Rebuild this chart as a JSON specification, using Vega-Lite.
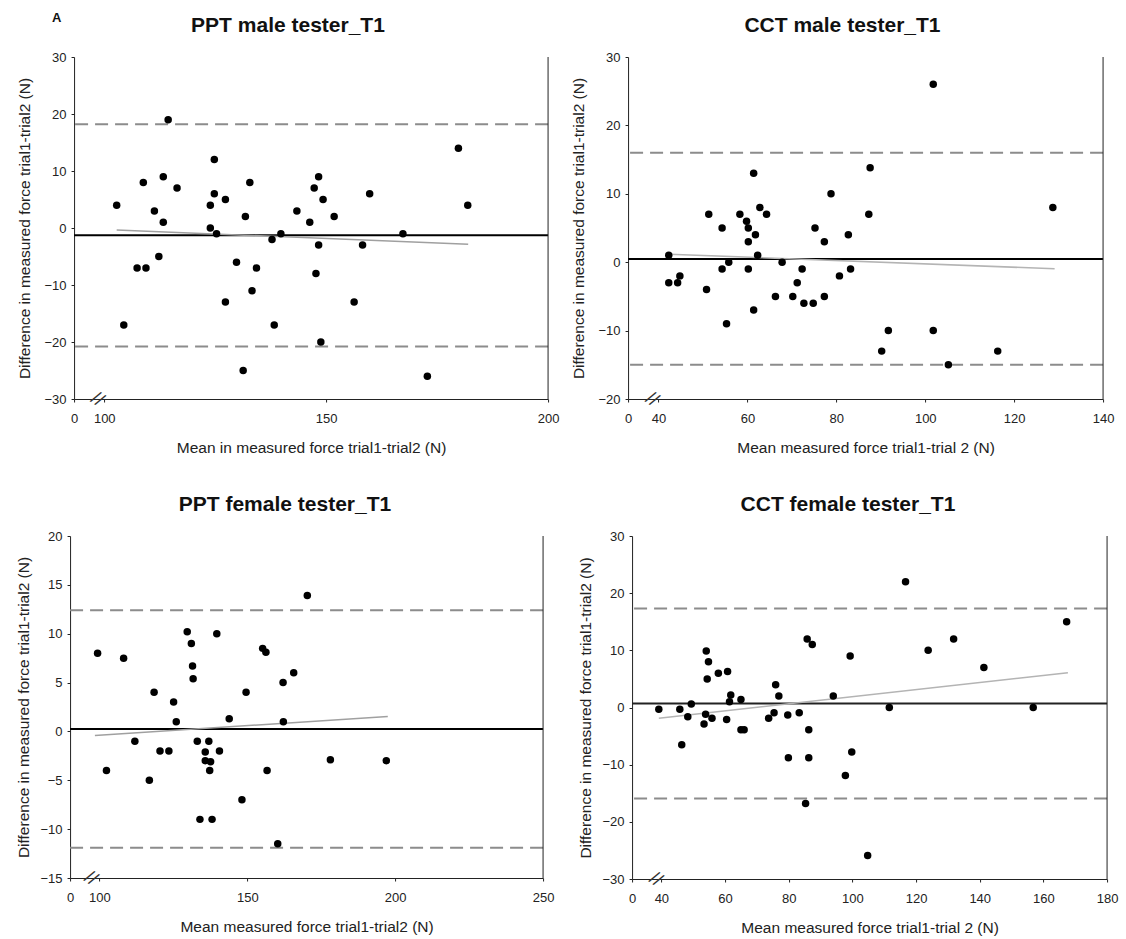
{
  "$schema": "https://vega.github.io/schema/vega-lite/v6.json",
  "padding": {"left": 16, "top": 12, "right": 5, "bottom": 5},
  "background": "white",
  "title": {"text": "A", "anchor": "start", "fontSize": 13, "fontWeight": "bold", "offset": -10, "dx": -18, "frame": "group", "baseline": "top"},
  "spacing": 38,
  "center": true,
  "vconcat": [
    {
      "spacing": 11,
      "hconcat": [
        {
          "width": 474, "height": 342,
          "title": {"text": "PPT male tester_T1"},
          "layer": [
            {"data": {"values": [{"diff": 18.2}, {"diff": -20.8}]}, "mark": {"type": "rule", "color": "#8c8c8c", "strokeWidth": 2, "strokeDash": [13, 7]}, "encoding": {"y": {"field": "diff", "type": "quantitative"}}},
            {"data": {"values": [{"diff": -1.25}]}, "mark": {"type": "rule", "color": "black", "strokeWidth": 2}, "encoding": {"y": {"field": "diff", "type": "quantitative"}}},
            {"data": {"values": [{"mean": 102.8, "diff": -0.37}, {"mean": 182, "diff": -2.83}]}, "mark": {"type": "line", "color": "#a0a0a0", "strokeWidth": 1.5}, "encoding": {"x": {"field": "mean", "type": "quantitative"}, "y": {"field": "diff", "type": "quantitative"}}},
            {"data": {"values": [{}]}, "mark": {"type": "rule", "color": "#222", "strokeWidth": 1}, "encoding": {"x": {"datum": 200, "type": "quantitative"}}},
            {"data": {"values": [{}]}, "mark": {"type": "text", "text": "//", "fontSize": 19, "angle": 35, "color": "#333"}, "encoding": {"x": {"datum": 98.5, "type": "quantitative"}, "y": {"datum": -30, "type": "quantitative"}}},
            {
              "data": {"values": [
                {"mean": 102.8, "diff": 4}, {"mean": 104.4, "diff": -17}, {"mean": 107.4, "diff": -7}, {"mean": 109.4, "diff": -7}, {"mean": 108.8, "diff": 8},
                {"mean": 111.3, "diff": 3}, {"mean": 112.3, "diff": -5}, {"mean": 113.3, "diff": 9}, {"mean": 113.3, "diff": 1}, {"mean": 114.4, "diff": 19},
                {"mean": 116.4, "diff": 7}, {"mean": 123.9, "diff": 4}, {"mean": 123.9, "diff": 0}, {"mean": 124.8, "diff": 12}, {"mean": 124.8, "diff": 6},
                {"mean": 125.3, "diff": -1}, {"mean": 127.3, "diff": 5}, {"mean": 127.3, "diff": -13}, {"mean": 129.8, "diff": -6}, {"mean": 131.3, "diff": -25},
                {"mean": 131.8, "diff": 2}, {"mean": 132.8, "diff": 8}, {"mean": 133.3, "diff": -11}, {"mean": 134.3, "diff": -7}, {"mean": 137.8, "diff": -2},
                {"mean": 138.3, "diff": -17}, {"mean": 139.8, "diff": -1}, {"mean": 143.4, "diff": 3}, {"mean": 146.3, "diff": 1}, {"mean": 147.3, "diff": 7},
                {"mean": 147.7, "diff": -8}, {"mean": 148.3, "diff": 9}, {"mean": 148.3, "diff": -3}, {"mean": 148.8, "diff": -20}, {"mean": 149.3, "diff": 5},
                {"mean": 151.8, "diff": 2}, {"mean": 156.3, "diff": -13}, {"mean": 158.2, "diff": -3}, {"mean": 159.8, "diff": 6}, {"mean": 167.3, "diff": -1},
                {"mean": 172.8, "diff": -26}, {"mean": 179.8, "diff": 14}, {"mean": 181.9, "diff": 4}
              ]},
              "mark": {"type": "circle", "color": "black", "opacity": 1, "size": 56},
              "encoding": {
                "x": {"field": "mean", "type": "quantitative", "scale": {"domain": [93.2, 200], "nice": false, "zero": false}, "axis": {"title": "Mean in measured force trial1-trial2 (N)", "values": [93.2, 100, 150, 200], "labelExpr": "datum.value < 100 ? '0' : datum.label"}},
                "y": {"field": "diff", "type": "quantitative", "scale": {"domain": [-30, 30], "nice": false, "zero": false}, "axis": {"title": "Difference in measured force trial1-trial2 (N)", "values": [-30, -20, -10, 0, 10, 20, 30]}}
              }
            }
          ]
        },
        {
          "width": 475, "height": 342,
          "title": {"text": "CCT male tester_T1"},
          "layer": [
            {"data": {"values": [{"diff": 16}, {"diff": -15}]}, "mark": {"type": "rule", "color": "#8c8c8c", "strokeWidth": 2, "strokeDash": [13, 7]}, "encoding": {"y": {"field": "diff", "type": "quantitative"}}},
            {"data": {"values": [{"diff": 0.45}]}, "mark": {"type": "rule", "color": "black", "strokeWidth": 2}, "encoding": {"y": {"field": "diff", "type": "quantitative"}}},
            {"data": {"values": [{"mean": 42.4, "diff": 1.18}, {"mean": 129.1, "diff": -0.96}]}, "mark": {"type": "line", "color": "#b4b4b4", "strokeWidth": 1.5}, "encoding": {"x": {"field": "mean", "type": "quantitative"}, "y": {"field": "diff", "type": "quantitative"}}},
            {"data": {"values": [{}]}, "mark": {"type": "rule", "color": "#222", "strokeWidth": 1}, "encoding": {"x": {"datum": 140, "type": "quantitative"}}},
            {"data": {"values": [{}]}, "mark": {"type": "text", "text": "//", "fontSize": 19, "angle": 35, "color": "#333"}, "encoding": {"x": {"datum": 38.6, "type": "quantitative"}, "y": {"datum": -20, "type": "quantitative"}}},
            {
              "data": {"values": [
                {"mean": 42.3, "diff": 1}, {"mean": 42.3, "diff": -3}, {"mean": 44.3, "diff": -3}, {"mean": 44.8, "diff": -2}, {"mean": 50.8, "diff": -4},
                {"mean": 51.3, "diff": 7}, {"mean": 54.3, "diff": 5}, {"mean": 54.3, "diff": -1}, {"mean": 55.3, "diff": -9}, {"mean": 55.8, "diff": 0},
                {"mean": 58.3, "diff": 7}, {"mean": 59.8, "diff": 6}, {"mean": 60.2, "diff": 5}, {"mean": 60.2, "diff": 3}, {"mean": 60.2, "diff": -1},
                {"mean": 61.4, "diff": 13}, {"mean": 61.4, "diff": -7}, {"mean": 61.8, "diff": 4}, {"mean": 62.3, "diff": 1}, {"mean": 62.8, "diff": 8},
                {"mean": 64.3, "diff": 7}, {"mean": 66.3, "diff": -5}, {"mean": 67.8, "diff": 0}, {"mean": 70.2, "diff": -5}, {"mean": 71.2, "diff": -3},
                {"mean": 72.3, "diff": -1}, {"mean": 72.7, "diff": -6}, {"mean": 74.8, "diff": -6}, {"mean": 75.2, "diff": 5}, {"mean": 77.3, "diff": -5},
                {"mean": 77.3, "diff": 3}, {"mean": 78.8, "diff": 10}, {"mean": 80.7, "diff": -2}, {"mean": 82.7, "diff": 4}, {"mean": 83.2, "diff": -1},
                {"mean": 87.3, "diff": 7}, {"mean": 87.6, "diff": 13.8}, {"mean": 90.2, "diff": -13}, {"mean": 91.7, "diff": -10}, {"mean": 101.8, "diff": 26},
                {"mean": 101.8, "diff": -10}, {"mean": 105.2, "diff": -15}, {"mean": 116.3, "diff": -13}, {"mean": 128.7, "diff": 8}
              ]},
              "mark": {"type": "circle", "color": "black", "opacity": 1, "size": 56},
              "encoding": {
                "x": {"field": "mean", "type": "quantitative", "scale": {"domain": [33.15, 140], "nice": false, "zero": false}, "axis": {"title": "Mean measured force trial1-trial 2 (N)", "values": [33.15, 40, 60, 80, 100, 120, 140], "labelExpr": "datum.value < 40 ? '0' : datum.label"}},
                "y": {"field": "diff", "type": "quantitative", "scale": {"domain": [-20, 30], "nice": false, "zero": false}, "axis": {"title": "Difference in measured force trial1-trial2 (N)", "values": [-20, -10, 0, 10, 20, 30]}}
              }
            }
          ]
        }
      ]
    },
    {
      "spacing": 23,
      "hconcat": [
        {
          "width": 473, "height": 342,
          "title": {"text": "PPT female tester_T1"},
          "layer": [
            {"data": {"values": [{"diff": 12.4}, {"diff": -11.9}]}, "mark": {"type": "rule", "color": "#8c8c8c", "strokeWidth": 2, "strokeDash": [13, 7]}, "encoding": {"y": {"field": "diff", "type": "quantitative"}}},
            {"data": {"values": [{"diff": 0.25}]}, "mark": {"type": "rule", "color": "black", "strokeWidth": 2}, "encoding": {"y": {"field": "diff", "type": "quantitative"}}},
            {"data": {"values": [{"mean": 98.5, "diff": -0.42}, {"mean": 197.5, "diff": 1.53}]}, "mark": {"type": "line", "color": "#a0a0a0", "strokeWidth": 1.5}, "encoding": {"x": {"field": "mean", "type": "quantitative"}, "y": {"field": "diff", "type": "quantitative"}}},
            {"data": {"values": [{}]}, "mark": {"type": "rule", "color": "#222", "strokeWidth": 1}, "encoding": {"x": {"datum": 250, "type": "quantitative"}}},
            {"data": {"values": [{}]}, "mark": {"type": "text", "text": "//", "fontSize": 19, "angle": 35, "color": "#333"}, "encoding": {"x": {"datum": 97.2, "type": "quantitative"}, "y": {"datum": -15, "type": "quantitative"}}},
            {
              "data": {"values": [
                {"mean": 99.4, "diff": 8}, {"mean": 102.4, "diff": -4}, {"mean": 108.2, "diff": 7.5}, {"mean": 112, "diff": -1}, {"mean": 116.9, "diff": -5},
                {"mean": 118.5, "diff": 4}, {"mean": 120.5, "diff": -2}, {"mean": 123.5, "diff": -2}, {"mean": 125.1, "diff": 3}, {"mean": 126, "diff": 1},
                {"mean": 129.7, "diff": 10.2}, {"mean": 131.1, "diff": 9}, {"mean": 131.5, "diff": 6.7}, {"mean": 131.7, "diff": 5.4}, {"mean": 133.1, "diff": -1},
                {"mean": 134, "diff": -9}, {"mean": 135.8, "diff": -2.1}, {"mean": 135.8, "diff": -3}, {"mean": 137, "diff": -1}, {"mean": 137.3, "diff": -4},
                {"mean": 137.6, "diff": -3.1}, {"mean": 138.1, "diff": -9}, {"mean": 139.7, "diff": 10}, {"mean": 140.6, "diff": -2}, {"mean": 143.9, "diff": 1.3},
                {"mean": 148.2, "diff": -7}, {"mean": 149.6, "diff": 4}, {"mean": 155.2, "diff": 8.5}, {"mean": 156.3, "diff": 8.1}, {"mean": 156.7, "diff": -4},
                {"mean": 160.3, "diff": -11.5}, {"mean": 162.1, "diff": 5}, {"mean": 162.2, "diff": 1}, {"mean": 165.7, "diff": 6}, {"mean": 170.3, "diff": 13.9},
                {"mean": 178.1, "diff": -2.9}, {"mean": 197, "diff": -3}
              ]},
              "mark": {"type": "circle", "color": "black", "opacity": 1, "size": 56},
              "encoding": {
                "x": {"field": "mean", "type": "quantitative", "scale": {"domain": [90.1, 250], "nice": false, "zero": false}, "axis": {"title": "Mean measured force trial1-trial2 (N)", "values": [90.1, 100, 150, 200, 250], "labelExpr": "datum.value < 100 ? '0' : datum.label"}},
                "y": {"field": "diff", "type": "quantitative", "scale": {"domain": [-15, 20], "nice": false, "zero": false}, "axis": {"title": "Difference in measured force trial1-trial2 (N)", "titlePadding": 9, "values": [-15, -10, -5, 0, 5, 10, 15, 20]}}
              }
            }
          ]
        },
        {
          "width": 475, "height": 343,
          "title": {"text": "CCT female tester_T1"},
          "layer": [
            {"data": {"values": [{"diff": 17.3}, {"diff": -15.9}]}, "mark": {"type": "rule", "color": "#8c8c8c", "strokeWidth": 2, "strokeDash": [13, 7]}, "encoding": {"y": {"field": "diff", "type": "quantitative"}}},
            {"data": {"values": [{"diff": 0.7}]}, "mark": {"type": "rule", "color": "#222", "strokeWidth": 2}, "encoding": {"y": {"field": "diff", "type": "quantitative"}}},
            {"data": {"values": [{"mean": 39.2, "diff": -1.87}, {"mean": 167.7, "diff": 6.07}]}, "mark": {"type": "line", "color": "#b4b4b4", "strokeWidth": 1.5}, "encoding": {"x": {"field": "mean", "type": "quantitative"}, "y": {"field": "diff", "type": "quantitative"}}},
            {"data": {"values": [{}]}, "mark": {"type": "rule", "color": "#222", "strokeWidth": 1}, "encoding": {"x": {"datum": 180, "type": "quantitative"}}},
            {"data": {"values": [{}]}, "mark": {"type": "text", "text": "//", "fontSize": 19, "angle": 35, "color": "#333"}, "encoding": {"x": {"datum": 38.3, "type": "quantitative"}, "y": {"datum": -30, "type": "quantitative"}}},
            {
              "data": {"values": [
                {"mean": 39.2, "diff": -0.3}, {"mean": 45.8, "diff": -0.3}, {"mean": 46.4, "diff": -6.5}, {"mean": 48.3, "diff": -1.6}, {"mean": 49.4, "diff": 0.6},
                {"mean": 53.4, "diff": -2.9}, {"mean": 53.9, "diff": -1.2}, {"mean": 54.1, "diff": 9.9}, {"mean": 54.4, "diff": 5}, {"mean": 54.8, "diff": 8},
                {"mean": 55.9, "diff": -1.9}, {"mean": 57.9, "diff": 6}, {"mean": 60.5, "diff": -2.1}, {"mean": 60.8, "diff": 6.3}, {"mean": 61.4, "diff": 1},
                {"mean": 61.8, "diff": 2.2}, {"mean": 65, "diff": 1.4}, {"mean": 65, "diff": -3.9}, {"mean": 66, "diff": -3.9}, {"mean": 73.7, "diff": -1.9},
                {"mean": 75.4, "diff": -0.9}, {"mean": 75.9, "diff": 4}, {"mean": 76.9, "diff": 2}, {"mean": 79.7, "diff": -1.3}, {"mean": 79.9, "diff": -8.8},
                {"mean": 83.3, "diff": -0.9}, {"mean": 85.3, "diff": -16.8}, {"mean": 85.8, "diff": 12}, {"mean": 86.3, "diff": -3.9}, {"mean": 86.3, "diff": -8.8},
                {"mean": 87.4, "diff": 11}, {"mean": 94, "diff": 2}, {"mean": 97.8, "diff": -11.9}, {"mean": 99.3, "diff": 9}, {"mean": 99.8, "diff": -7.8},
                {"mean": 104.8, "diff": -25.9}, {"mean": 111.6, "diff": 0}, {"mean": 116.7, "diff": 22}, {"mean": 123.8, "diff": 10}, {"mean": 131.8, "diff": 12},
                {"mean": 141.3, "diff": 7}, {"mean": 156.8, "diff": 0}, {"mean": 167.3, "diff": 15}
              ]},
              "mark": {"type": "circle", "color": "black", "opacity": 1, "size": 56},
              "encoding": {
                "x": {"field": "mean", "type": "quantitative", "scale": {"domain": [30.8, 180], "nice": false, "zero": false}, "axis": {"title": "Mean measured force trial1-trial 2 (N)", "values": [30.8, 40, 60, 80, 100, 120, 140, 160, 180], "labelExpr": "datum.value < 40 ? '0' : datum.label"}},
                "y": {"field": "diff", "type": "quantitative", "scale": {"domain": [-30, 30], "nice": false, "zero": false}, "axis": {"title": "Difference in measured force trial1-trial2 (N)", "titlePadding": 9, "values": [-30, -20, -10, 0, 10, 20, 30]}}
              }
            }
          ]
        }
      ]
    }
  ],
  "config": {
    "view": {"stroke": null},
    "font": "Liberation Sans",
    "title": {"font": "Liberation Sans", "fontSize": 21, "fontWeight": "bold", "color": "#111", "frame": "bounds", "anchor": "middle", "offset": 15, "baseline": "alphabetic"},
    "axis": {"labelFont": "Liberation Sans", "labelFontSize": 13, "labelColor": "#222", "titleFont": "Liberation Sans", "titleFontSize": 15.5, "titleFontWeight": "normal", "titleColor": "#222", "domainColor": "#222", "tickColor": "#222", "tickSize": 3, "grid": false, "labelFlush": false, "labelOverlap": false},
    "axisX": {"labelPadding": 10, "titlePadding": 15},
    "axisY": {"labelPadding": 5, "titlePadding": 12}
  }
}
